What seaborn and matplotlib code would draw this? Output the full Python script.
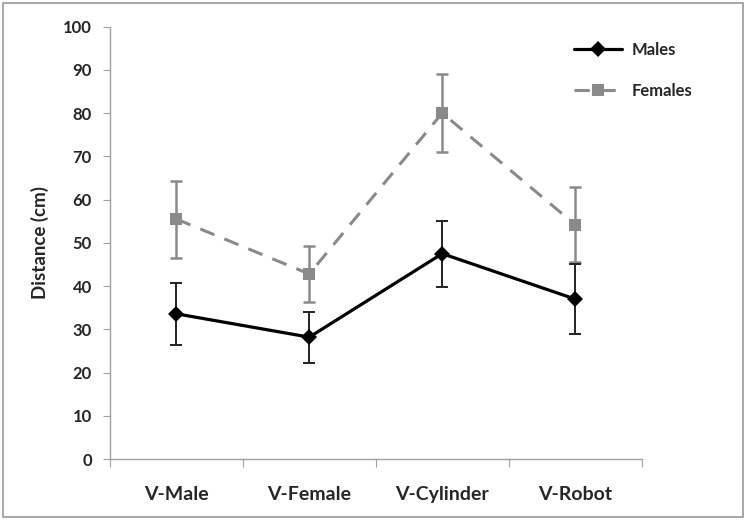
import matplotlib
matplotlib.use("Agg")
import matplotlib.pyplot as plt
import seaborn as sns
import pandas as pd
from matplotlib.patches import Rectangle

conditions = ["V-Male", "V-Female", "V-Cylinder", "V-Robot"]
males = [33.6, 28.2, 47.5, 37.0]
males_err = [7.1, 5.9, 7.6, 8.1]
females = [55.5, 42.8, 80.0, 54.2]
females_err = [8.9, 6.4, 9.1, 8.6]

sns.set_style("white")
plt.rcParams["font.family"] = ["Lato", "DejaVu Sans"]

df = pd.DataFrame({
    "pos": list(range(len(conditions))) * 2,
    "dist": males + females,
    "group": ["Males"] * 4 + ["Females"] * 4,
})

fig = plt.figure(figsize=(7.47, 5.20), dpi=100)
ax = fig.add_axes([0.147, 0.117, 0.712, 0.832])

grey = "#8a8a8a"

# error bars first so markers sit on top
ax.errorbar(range(4), females, yerr=females_err, fmt="none", ecolor=grey,
            elinewidth=1.8, capsize=4, capthick=1.8, zorder=2)
ax.errorbar(range(4), males, yerr=males_err, fmt="none", ecolor="#222222",
            elinewidth=1.4, capsize=4, capthick=1.4, zorder=3)

sns.lineplot(data=df[df.group == "Females"], x="pos", y="dist", ax=ax,
             color=grey, linewidth=2.2, marker="s", markersize=9,
             markeredgewidth=0, label="Females", zorder=2)
sns.lineplot(data=df[df.group == "Males"], x="pos", y="dist", ax=ax,
             color="black", linewidth=2.3, marker="D", markersize=8,
             markeredgewidth=0, label="Males", zorder=4)
ax.lines[-2].set_dashes([5, 3.5])

ax.set_xlim(-0.5, 3.5)
ax.set_ylim(0, 100)
ax.set_yticks(range(0, 101, 10))
ax.set_xticks([i - 0.5 for i in range(5)], minor=False)
ax.set_xticklabels([])
ax.set_xticks(range(4), minor=True)
ax.set_xticklabels(conditions, minor=True, fontsize=14, fontweight="bold")
ax.tick_params(axis="x", which="minor", length=0, pad=19)
ax.tick_params(axis="x", which="major", direction="out", length=6, color="#a0a0a0", bottom=True)
ax.tick_params(axis="y", direction="out", length=5, color="#a0a0a0", labelsize=12, left=True, pad=8)
for lbl in ax.get_yticklabels():
    lbl.set_fontweight("bold")

ax.set_xlabel("")
ax.set_ylabel("Distance (cm)", fontsize=13.5, fontweight="bold", labelpad=10)

for s in ["top", "right"]:
    ax.spines[s].set_visible(False)
for s in ["left", "bottom"]:
    ax.spines[s].set_color("#a0a0a0")
    ax.spines[s].set_linewidth(1)

handles, labels = ax.get_legend_handles_labels()
ax.get_legend().remove()
order = [labels.index("Males"), labels.index("Females")]
fig.legend([handles[i] for i in order], [labels[i] for i in order],
           loc="upper left", bbox_to_anchor=(0.748, 0.948), frameon=False,
           labelspacing=1.5, handlelength=2.9, handletextpad=0.6,
           prop={"weight": "bold", "size": 12})

fig.patches.append(Rectangle((0.004, 0.006), 0.99, 0.988, transform=fig.transFigure,
                             fill=False, edgecolor="#9a9a9a", linewidth=1.2))

fig.savefig("out.png", dpi=100)
